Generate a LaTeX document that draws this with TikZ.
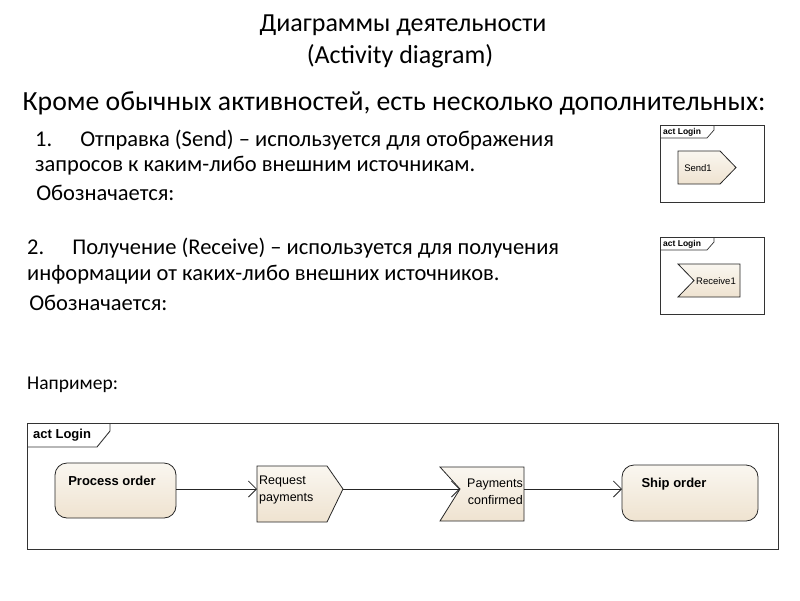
\documentclass[tikz,border=0pt]{standalone}
\usepackage{fontspec}
\setmainfont{Carlito}
\newfontfamily\arialf{Liberation Sans}
\usetikzlibrary{arrows.meta}
\definecolor{cream}{RGB}{242,234,218}
\begin{document}
\begin{tikzpicture}[x=1pt,y=-1pt,
  shp/.style={draw=black!85,line width=0.8pt,top color=white!60!cream,bottom color=cream!90!brown!90},
  frm/.style={draw=black!80,line width=0.7pt},
  txt/.style={anchor=west,inner sep=0pt,font=\fontsize{22.5}{26}\selectfont},
  lbl/.style={inner sep=0pt,font=\arialf\fontsize{13}{15}\selectfont\bfseries},
  sm/.style={inner sep=0pt,font=\arialf\fontsize{9.5}{11}\selectfont},
  flow/.style={draw=black!85,line width=0.9pt,-{Straight Barb[length=8pt,width=16pt,line width=0.8pt]}}]
\useasboundingbox (0,0) rectangle (800,600);
\fill[white] (0,0) rectangle (800,600);
\node[inner sep=0pt,font=\fontsize{26}{30}\selectfont] (t1) at (403,25) {Диаграммы деятельности};
\node[inner sep=0pt,font=\fontsize{26}{30}\selectfont] (t2) at (400,56) {(Activity diagram)};
\node[inner sep=0pt,font=\fontsize{27.7}{32}\selectfont] (h) at (394,103) {Кроме обычных активностей, есть несколько дополнительных:};
\node[txt] (a1) at (35,140) {1.\hspace{28pt}Отправка (Send) – используется для отображения};
\node[txt] (a2) at (35,166) {запросов к каким-либо внешним источникам.};
\node[txt] (a3) at (31,193) {\ Обозначается:};
\node[txt] (b1) at (27,248) {2.\hspace{28pt}Получение (Receive) – используется для получения};
\node[txt] (b2) at (27,275) {информации от каких-либо внешних источников.};
\node[txt] (b3) at (24,303) {\ Обозначается:};
\node[txt,font=\fontsize{19.5}{23}\selectfont] (ex) at (27,385) {Например:};
% small frames
\draw[frm] (660,125) rectangle (764,202);
\draw[frm] (660,138) -- (707,138) -- (714,130) -- (714,125);
\node[sm,font=\arialf\fontsize{8.5}{10}\selectfont\bfseries,anchor=west] (s0) at (663,132) {act Login};
\path[shp] (678,151) -- (720,151) -- (736,167.5) -- (720,184) -- (678,184) -- cycle;
\node[sm] (send) at (698,168) {Send1};
\draw[frm] (660,237) rectangle (764,314);
\draw[frm] (660,250) -- (707,250) -- (714,242) -- (714,237);
\node[sm,font=\arialf\fontsize{8.5}{10}\selectfont\bfseries,anchor=west] (r0) at (663,244) {act Login};
\path[shp] (678,264) -- (740,264) -- (740,297) -- (678,297) -- (694,280.5) -- cycle;
\node[sm] (recv) at (716,281) {Receive1};
% main frame
\draw[frm,line width=0.9pt] (27,423) rectangle (778,549);
\draw[frm,line width=0.9pt] (27,447) -- (97,447) -- (110,431) -- (110,423);
\node[lbl,anchor=west] (m0) at (33,435) {act Login};
\path[shp,rounded corners=12pt] (55,463) rectangle (176,518);
\node[lbl] (po) at (112,481) {Process order};
\coordinate (poE) at (176,489);
\path[shp] (257,466) -- (327,466) -- (343,489) -- (327,522) -- (257,522) -- cycle;
\node[lbl,font=\arialf\fontsize{12.5}{17}\selectfont,align=left,anchor=west] (rq) at (259,490) {Request\\payments};
\coordinate (rqW) at (257,489); \coordinate (rqE) at (343,489);
\path[shp] (440,467) -- (524,467) -- (524,521) -- (440,521) -- (460,489) -- cycle;
\node[lbl,font=\arialf\fontsize{12.5}{17}\selectfont,align=right,anchor=east] (pc) at (523,492) {Payments\\confirmed};
\coordinate (pcW) at (460,489); \coordinate (pcE) at (524,489);
\path[shp,rounded corners=12pt] (622,465) rectangle (758,521);
\node[lbl] (so) at (674,484) {Ship order};
\coordinate (soW) at (622,489);
\draw[flow] (poE) -- (rqW);
\draw[flow] (rqE) -- (pcW);
\draw[flow] (pcE) -- (soW);
\end{tikzpicture}
\end{document}
